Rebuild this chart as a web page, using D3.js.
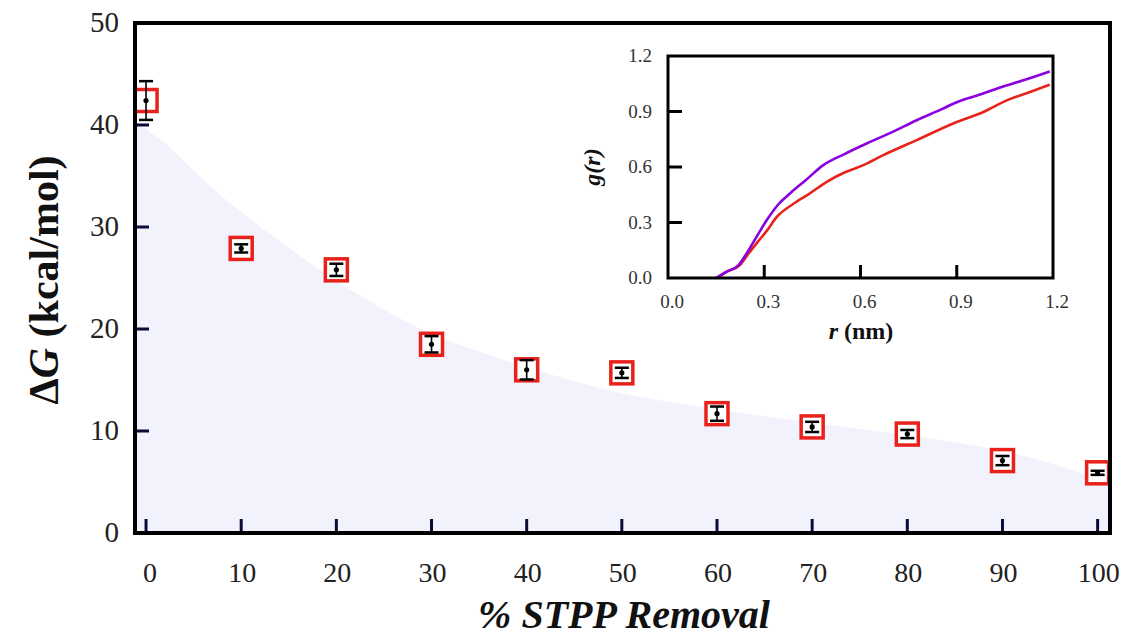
<!DOCTYPE html>
<html>
<head>
<meta charset="utf-8">
<script src="https://cdn.jsdelivr.net/npm/d3@7"></script>
<style>
  body { margin: 0; background: #fff; }
  svg { display: block; }
</style>
</head>
<body>
<div id="chart"></div>
<script>
// main panel: binding energy vs % STPP removal
const removal = [0, 10, 20, 30, 40, 50, 60, 70, 80, 90, 100];
const deltaG = [42.4, 27.9, 25.8, 18.5, 16.0, 15.7, 11.7, 10.4, 9.7, 7.1, 5.9];
const deltaGErr = [1.9, 0.4, 0.6, 0.8, 0.95, 0.5, 0.7, 0.5, 0.4, 0.45, 0.2];

// shaded guide band
const bandX = [-1.16, 2.3, 5.9, 9.3, 12.8, 16.4, 19.9, 23.3, 26.9, 32.1, 47.7, 54.0, 61.0, 82.7, 93.2, 101.3];
const bandY = [40.3, 38.2, 34.6, 32.0, 29.4, 27.0, 24.8, 22.8, 20.9, 18.5, 14.0, 13.0, 11.9, 9.3, 7.6, 4.8];

const xTicks = [0, 10, 20, 30, 40, 50, 60, 70, 80, 90, 100];
const yTicks = [0, 10, 20, 30, 40, 50];

// inset: g(r)
const rPurple = [0.15, 0.183, 0.22, 0.245, 0.275, 0.308, 0.345, 0.38, 0.43, 0.484, 0.55, 0.619, 0.70, 0.775, 0.85, 0.9, 0.97, 1.035, 1.11, 1.19];
const gPurple = [0.0, 0.034, 0.07, 0.133, 0.22, 0.313, 0.40, 0.457, 0.53, 0.61, 0.67, 0.727, 0.79, 0.853, 0.91, 0.95, 0.99, 1.03, 1.07, 1.117];
const rRed = [0.155, 0.183, 0.224, 0.25, 0.276, 0.31, 0.339, 0.39, 0.44, 0.495, 0.55, 0.609, 0.671, 0.775, 0.9, 0.983, 1.056, 1.12, 1.19];
const gRed = [0.0, 0.034, 0.07, 0.13, 0.187, 0.26, 0.33, 0.40, 0.455, 0.52, 0.57, 0.61, 0.664, 0.745, 0.843, 0.897, 0.96, 1.0, 1.045];
const insetTicks = [0.0, 0.3, 0.6, 0.9, 1.2];

const width = 1127, height = 639;
const frame = { left: 135, right: 1110, top: 23, bottom: 533 };
const serif = '"Liberation Serif", "Times New Roman", serif';
const red = '#e8221b';
const navy = '#0b0b3b';

const svg = d3.select('#chart').append('svg')
  .attr('width', width).attr('height', height);

const x = d3.scaleLinear().domain([-1.16, 101.3]).range([frame.left, frame.right]);
const y = d3.scaleLinear().domain([0, 50]).range([533, 23]);

// shaded band
const band = bandX.map((d, i) => [d, bandY[i]]);
svg.append('path')
  .datum(band)
  .attr('fill', '#f2f2fd')
  .attr('d', d3.area()
    .x(d => x(d[0]))
    .y0(y(0))
    .y1(d => y(d[1]))
    .curve(d3.curveBasis));

// ticks (inward)
svg.append('g').selectAll('line').data(xTicks).join('line')
  .attr('x1', d => x(d)).attr('x2', d => x(d))
  .attr('y1', frame.bottom).attr('y2', frame.bottom - 14)
  .attr('stroke', navy).attr('stroke-width', 3);

svg.append('g').selectAll('line').data(yTicks.filter(d => d > 0 && d < 50)).join('line')
  .attr('x1', frame.left).attr('x2', frame.left + 14)
  .attr('y1', d => y(d)).attr('y2', d => y(d))
  .attr('stroke', navy).attr('stroke-width', 3);

// tick labels
svg.append('g').selectAll('text').data(xTicks).join('text')
  .attr('x', d => x(d) + (d === 0 ? 4 : 1))
  .attr('y', 582)
  .attr('text-anchor', 'middle')
  .attr('font-family', serif)
  .attr('font-size', 28)
  .attr('fill', '#222')
  .text(d => d);

svg.append('g').selectAll('text').data(yTicks).join('text')
  .attr('x', 119)
  .attr('y', d => y(d) + 9)
  .attr('text-anchor', 'end')
  .attr('font-family', serif)
  .attr('font-size', 29)
  .attr('fill', '#222')
  .text(d => d);

// data points
const pts = svg.append('g').selectAll('g').data(removal).join('g')
  .attr('transform', (d, i) => `translate(${x(d)},${y(deltaG[i])})`);

pts.append('rect')
  .attr('x', -11).attr('y', -11)
  .attr('width', 22).attr('height', 22)
  .attr('fill', '#fff')
  .attr('stroke', red).attr('stroke-width', 3.5);

pts.append('line')
  .attr('x1', 0).attr('x2', 0)
  .attr('y1', (d, i) => y(deltaG[i] + deltaGErr[i]) - y(deltaG[i]))
  .attr('y2', (d, i) => y(deltaG[i] - deltaGErr[i]) - y(deltaG[i]))
  .attr('stroke', '#000').attr('stroke-width', 1.6);

[1, -1].forEach(s => {
  pts.append('line')
    .attr('x1', -7).attr('x2', 7)
    .attr('y1', (d, i) => y(deltaG[i] + s * deltaGErr[i]) - y(deltaG[i]))
    .attr('y2', (d, i) => y(deltaG[i] + s * deltaGErr[i]) - y(deltaG[i]))
    .attr('stroke', '#000').attr('stroke-width', 2.5);
});

pts.append('circle').attr('r', 2.6).attr('fill', '#000');

// frame
svg.append('rect')
  .attr('x', frame.left).attr('y', frame.top)
  .attr('width', frame.right - frame.left).attr('height', frame.bottom - frame.top)
  .attr('fill', 'none').attr('stroke', '#000').attr('stroke-width', 4);

// axis titles
const yTitle = svg.append('text')
  .attr('transform', `translate(58,${(frame.top + frame.bottom) / 2 + 2}) rotate(-90)`)
  .attr('text-anchor', 'middle')
  .attr('font-family', serif)
  .attr('font-weight', 'bold')
  .attr('font-size', 42)
  .attr('fill', '#111');
yTitle.append('tspan').text('Δ');
yTitle.append('tspan').attr('font-style', 'italic').text('G');
yTitle.append('tspan').text(' (kcal/mol)');

svg.append('text')
  .attr('x', 624).attr('y', 628)
  .attr('text-anchor', 'middle')
  .attr('font-family', serif)
  .attr('font-weight', 'bold')
  .attr('font-style', 'italic')
  .attr('font-size', 40)
  .attr('fill', '#111')
  .text('% STPP Removal');

// ---- inset ----
const inset = { left: 668, right: 1053, top: 56, bottom: 278 };
const ix = d3.scaleLinear().domain([0, 1.2]).range([inset.left, inset.right]);
const iy = d3.scaleLinear().domain([0, 1.2]).range([inset.bottom, inset.top]);

svg.append('rect')
  .attr('x', inset.left).attr('y', inset.top)
  .attr('width', inset.right - inset.left).attr('height', inset.bottom - inset.top)
  .attr('fill', '#fff');

const line = d3.line().x(d => ix(d[0])).y(d => iy(d[1])).curve(d3.curveMonotoneX);

svg.append('path')
  .datum(rRed.map((d, i) => [d, gRed[i]]))
  .attr('fill', 'none').attr('stroke', '#e8231a').attr('stroke-width', 2.6)
  .attr('d', line);

svg.append('path')
  .datum(rPurple.map((d, i) => [d, gPurple[i]]))
  .attr('fill', 'none').attr('stroke', '#8a00e0').attr('stroke-width', 2.6)
  .attr('d', line);

const innerTicks = insetTicks.filter(d => d > 0 && d < 1.2);
svg.append('g').selectAll('line').data(innerTicks).join('line')
  .attr('x1', d => ix(d)).attr('x2', d => ix(d))
  .attr('y1', inset.bottom).attr('y2', inset.bottom - 13)
  .attr('stroke', '#000').attr('stroke-width', 3);
svg.append('g').selectAll('line').data(innerTicks).join('line')
  .attr('x1', inset.left).attr('x2', inset.left + 14)
  .attr('y1', d => iy(d)).attr('y2', d => iy(d))
  .attr('stroke', '#000').attr('stroke-width', 3);

svg.append('rect')
  .attr('x', inset.left).attr('y', inset.top)
  .attr('width', inset.right - inset.left).attr('height', inset.bottom - inset.top)
  .attr('fill', 'none').attr('stroke', '#000').attr('stroke-width', 3);

svg.append('g').selectAll('text').data(insetTicks).join('text')
  .attr('x', d => ix(d) + 4)
  .attr('y', 308)
  .attr('text-anchor', 'middle')
  .attr('font-family', serif)
  .attr('font-size', 19)
  .attr('fill', '#333')
  .text(d => d.toFixed(1));

svg.append('g').selectAll('text').data(insetTicks).join('text')
  .attr('x', 652)
  .attr('y', d => iy(d) + 6)
  .attr('text-anchor', 'end')
  .attr('font-family', serif)
  .attr('font-size', 19)
  .attr('fill', '#333')
  .text(d => d.toFixed(1));

const rLabel = svg.append('text')
  .attr('x', 861).attr('y', 339)
  .attr('text-anchor', 'middle')
  .attr('font-family', serif)
  .attr('font-weight', 'bold')
  .attr('font-size', 24)
  .attr('fill', '#111');
rLabel.append('tspan').attr('font-style', 'italic').text('r');
rLabel.append('tspan').text(' (nm)');

svg.append('text')
  .attr('transform', `translate(600,167) rotate(-90)`)
  .attr('text-anchor', 'middle')
  .attr('font-family', serif)
  .attr('font-weight', 'bold')
  .attr('font-style', 'italic')
  .attr('font-size', 24)
  .attr('fill', '#111')
  .text('g(r)');
</script>
</body>
</html>
